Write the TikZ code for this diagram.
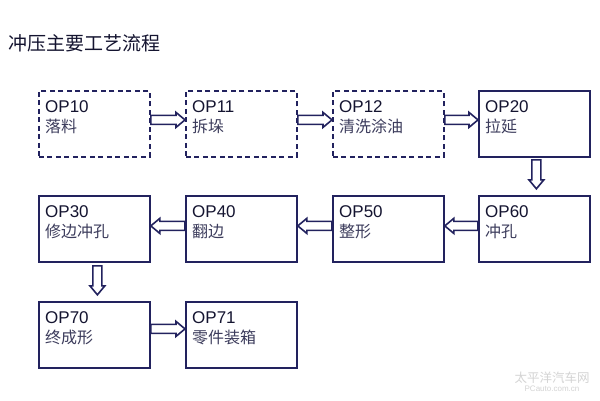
\documentclass[tikz,border=0pt]{standalone}
\usepackage{fontspec}
\setmainfont{Liberation Sans}
\newfontfamily\cjk{Noto Sans CJK SC}
\usetikzlibrary{calc}
\definecolor{navy}{HTML}{22225E}
\definecolor{optxt}{HTML}{141430}
\definecolor{cntxt}{HTML}{3C3C5C}
\definecolor{wmark}{HTML}{D4D4D4}
\tikzset{
  box/.style={draw=navy, line width=1.8pt, anchor=north west, minimum width=111pt, minimum height=66pt, inner sep=0pt},
  dbox/.style={box, dash pattern=on 5pt off 3.5pt},
  optext/.style={anchor=base west, inner sep=0pt, font=\fontsize{17}{17}\selectfont, text=optxt},
  cntext/.style={anchor=base west, inner sep=0pt, font=\cjk\fontsize{16}{16}\selectfont, text=cntxt},
  barrow/.style={draw=navy, fill=white, line width=1.6pt, line join=miter},
}
\newcommand\blockarrow[2]{%
  \coordinate (hb) at ($(#2)!9pt!(#1)$);
  \draw[barrow] ($(#1)!4.5pt!90:(#2)$) -- ($(hb)!4.5pt!90:(#2)$) -- ($(hb)!7.5pt!90:(#2)$) -- (#2)
    -- ($(hb)!7.5pt!-90:(#2)$) -- ($(hb)!4.5pt!-90:(#2)$) -- ($(#1)!4.5pt!-90:(#2)$) -- cycle;
}
\newcommand\opbox[6]{% style, name, x, y, op, cn
  \node[#1] (#2) at (#3,#4) {};
  \node[optext] (#2op) at ($(#2.north west)+(7,22)$) {#5};
  \node[cntext] (#2cn) at ($(#2.north west)+(7,42)$) {#6};
}
\begin{document}
\begin{tikzpicture}[x=1pt,y=-1pt]
\useasboundingbox[fill=white] (0,0) rectangle (600,400);
\node[anchor=west, inner sep=0pt, font=\cjk\fontsize{19}{19}\selectfont, text=optxt] (title) at (8,43) {冲压主要工艺流程};

\opbox{dbox}{op10}{38}{90}{OP10}{落料}
\opbox{dbox}{op11}{185}{90}{OP11}{拆垛}
\opbox{dbox}{op12}{332}{90}{OP12}{清洗涂油}
\opbox{box}{op20}{478}{90}{OP20}{拉延}

\opbox{box}{op30}{38}{195}{OP30}{修边冲孔}
\opbox{box}{op40}{185}{195}{OP40}{翻边}
\opbox{box}{op50}{332}{195}{OP50}{整形}
\opbox{box}{op60}{478}{195}{OP60}{冲孔}

\opbox{box}{op70}{38}{301}{OP70}{终成形}
\opbox{box}{op71}{185}{301}{OP71}{零件装箱}

% row 1 arrows
\coordinate (a1s) at ($(op10.east)+(0,-4)$);
\coordinate (a1e) at ($(op11.west)+(0,-4)$);
\blockarrow{a1s}{a1e}
\coordinate (a2s) at ($(op11.east)+(0,-4)$);
\coordinate (a2e) at ($(op12.west)+(0,-4)$);
\blockarrow{a2s}{a2e}
\coordinate (a3s) at ($(op12.east)+(0,-4)$);
\coordinate (a3e) at ($(op20.west)+(0,-4)$);
\blockarrow{a3s}{a3e}
% down
\coordinate (a4s) at ($(op20.south)+(2,2)$);
\coordinate (a4e) at ($(op20.south)+(2,31)$);
\blockarrow{a4s}{a4e}
% row 2 arrows
\coordinate (a5s) at ($(op60.west)+(0,-3)$);
\coordinate (a5e) at ($(op50.east)+(0,-3)$);
\blockarrow{a5s}{a5e}
\coordinate (a6s) at ($(op50.west)+(0,-3)$);
\coordinate (a6e) at ($(op40.east)+(0,-3)$);
\blockarrow{a6s}{a6e}
\coordinate (a7s) at ($(op40.west)+(0,-3)$);
\coordinate (a7e) at ($(op30.east)+(0,-3)$);
\blockarrow{a7s}{a7e}
% down
\coordinate (a8s) at ($(op30.south)+(3,3)$);
\coordinate (a8e) at ($(op30.south)+(3,32)$);
\blockarrow{a8s}{a8e}
% row 3
\coordinate (a9s) at ($(op70.east)+(0,-6)$);
\coordinate (a9e) at ($(op71.west)+(0,-6)$);
\blockarrow{a9s}{a9e}

% watermark
\node[anchor=center, inner sep=0pt, font=\cjk\fontsize{12.5}{13}\selectfont, text=wmark] (wm1) at (552,378) {太平洋汽车网};
\node[anchor=center, inner sep=0pt, font=\fontsize{8}{8}\selectfont, text=wmark] (wm2) at (552,389) {PCauto.com.cn};
\end{tikzpicture}
\end{document}
